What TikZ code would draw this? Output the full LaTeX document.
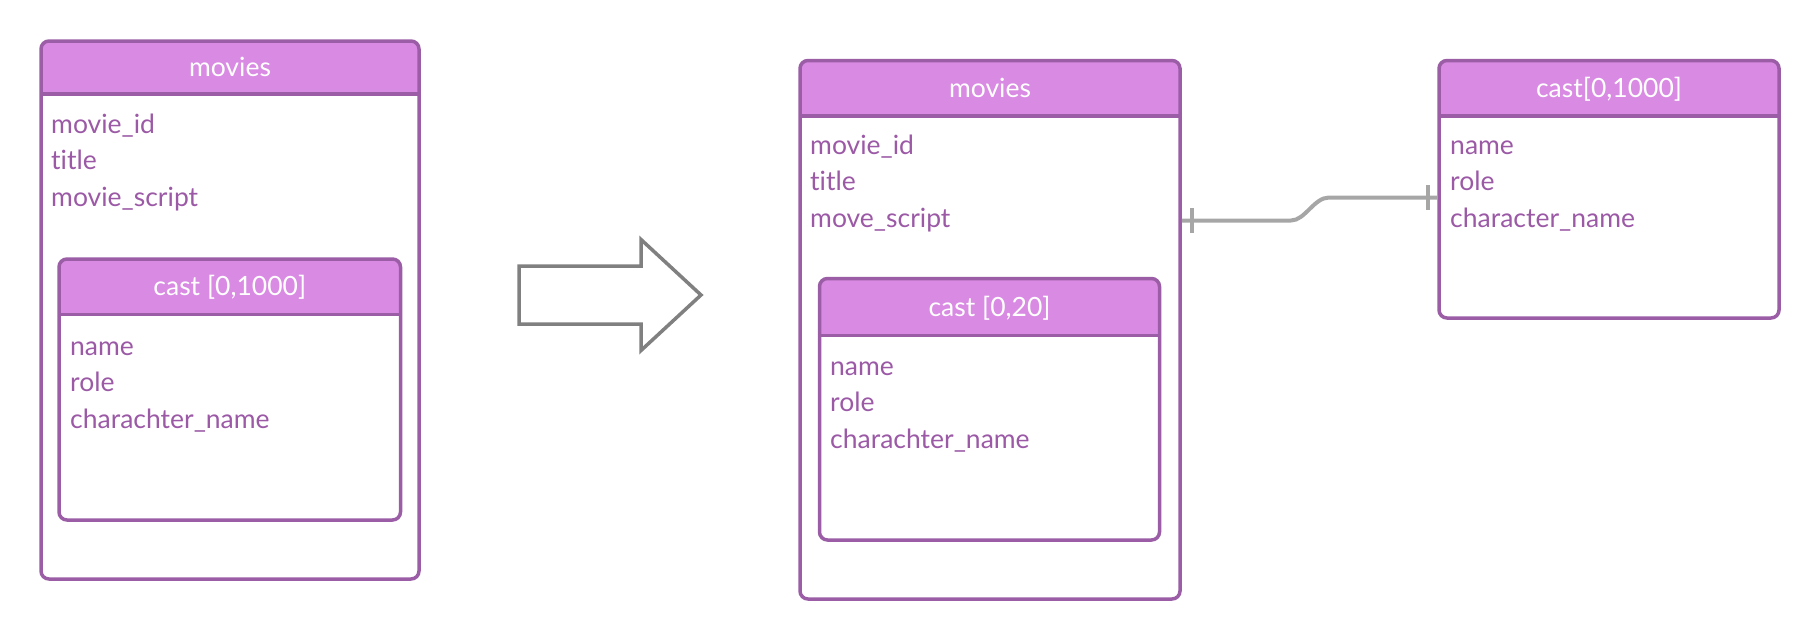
\documentclass[tikz,border=0pt]{standalone}
\usepackage{fontspec}
\setmainfont{Lato}[Ligatures={NoCommon}]
\usetikzlibrary{fit}
\definecolor{hdrfill}{HTML}{D98AE3}
\definecolor{bord}{HTML}{9B5EA6}
\definecolor{fieldtxt}{HTML}{9B59A6}
\definecolor{linkgray}{HTML}{A6A6A6}
\definecolor{arrowgray}{HTML}{808080}
\tikzset{
  tblframe/.style={draw=bord, line width=3.5pt, rounded corners=8pt, inner sep=0pt},
  hdrtext/.style={text=white, anchor=base, inner sep=0pt, font=\fontsize{26.5}{32}\selectfont},
  fieldtext/.style={text=fieldtxt, anchor=base west, inner sep=0pt, font=\fontsize{26.5}{32}\selectfont},
  linkline/.style={draw=linkgray, line width=4pt},
  bigarrow/.style={draw=arrowgray, line width=3.5pt, fill=white}
}
% #1 name, #2 x1, #3 y1, #4 x2, #5 y2, #6 header bottom y, #7 title
\newcommand\mytbl[7]{%
  \fill[hdrfill] (#2,#6) {[rounded corners=8pt] -- (#2,#3) -- (#4,#3)} -- (#4,#6) -- cycle;
  \draw[bord, line width=3.5pt] (#2,#6) -- (#4,#6);
  \node[tblframe, fit={(#2,#3) (#4,#5)}] (#1) {};
  \node[hdrtext] (#1-title) at ({(#2+#4)/2},{(#3+#6)/2+9}) {#7};
}
\begin{document}
\begin{tikzpicture}[x=1pt,y=-1pt]
\useasboundingbox (0,0) rectangle (1820,640);
% left: nested
\mytbl{mA}{41}{41}{419}{579}{94}{movies}
\node[fieldtext] (mA-f1) at (51,133) {movie\_id};
\node[fieldtext] (mA-f2) at (51,169.5) {title};
\node[fieldtext] (mA-f3) at (51,206) {movie\_script};
\mytbl{cA}{59}{259}{400.5}{520}{314.5}{cast [0,1000]}
\node[fieldtext] (cA-f1) at (70,355) {name};
\node[fieldtext] (cA-f2) at (70,391.5) {role};
\node[fieldtext] (cA-f3) at (70,428) {charachter\_name};
% arrow
\node[inner sep=0pt] (arr) at (610,295) {};
\draw[bigarrow, line join=miter] (519,266) -- (641,266) -- (641,239.5) -- (701,295) -- (641,350.5) -- (641,324) -- (519,324) -- cycle;
% middle
\mytbl{mB}{800}{60.5}{1180}{599}{116}{movies}
\node[fieldtext] (mB-f1) at (810,154) {movie\_id};
\node[fieldtext] (mB-f2) at (810,190.5) {title};
\node[fieldtext] (mB-f3) at (810,227) {move\_script};
\mytbl{cB}{819.5}{278.5}{1159.5}{540}{335.5}{cast [0,20]}
\node[fieldtext] (cB-f1) at (830,375) {name};
\node[fieldtext] (cB-f2) at (830,411.5) {role};
\node[fieldtext] (cB-f3) at (830,448) {charachter\_name};
% right
\mytbl{cC}{1439}{60.5}{1779}{318}{116}{cast[0,1000]}
\node[fieldtext] (cC-f1) at (1450,154) {name};
\node[fieldtext] (cC-f2) at (1450,190.5) {role};
\node[fieldtext] (cC-f3) at (1450,227) {character\_name};
% connector
\coordinate (pL) at (mB.east |- 0,220.5);
\coordinate (pR) at (cC.west |- 0,197.5);
\draw[linkline] (pL) -- (1291,220.5) .. controls (1305,220.5) and (1314,197.5) .. (1329,197.5) -- (pR);
\draw[linkline] ([xshift=10pt,yshift=-12.5pt]pL) -- ([xshift=10pt,yshift=13pt]pL);
\draw[linkline] ([xshift=-9pt,yshift=-12.5pt]pR) -- ([xshift=-9pt,yshift=12.5pt]pR);
\end{tikzpicture}
\end{document}
